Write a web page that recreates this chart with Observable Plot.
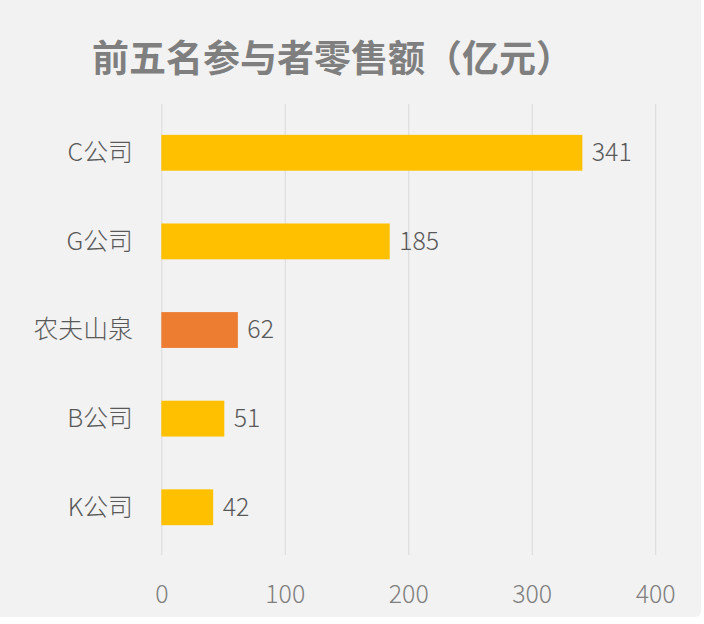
<!DOCTYPE html>
<html>
<head>
<meta charset="utf-8">
<script src="https://cdn.jsdelivr.net/npm/d3@7"></script>
<script src="https://cdn.jsdelivr.net/npm/@observablehq/plot@0.6"></script>
<style>
  html, body { margin: 0; padding: 0; background: #ffffff; }
  #card { position: relative; width: 701px; height: 617px; background: #f2f2f2; border-radius: 0 0 6px 0; overflow: hidden; }
  #title { position: absolute; left: 92px; top: 31px; font-family: "Noto Sans CJK SC", sans-serif; font-weight: bold; font-size: 37px; line-height: 50px; color: #7f7f7f; white-space: nowrap; }
  #chart { position: absolute; left: 0; top: 100px; }
</style>
</head>
<body>
<div id="card">
  <div id="title">前五名参与者零售额（亿元）</div>
  <div id="chart"></div>
</div>
<script>
const companies = ["C公司", "G公司", "农夫山泉", "B公司", "K公司"];
const values = [341, 185, 62, 51, 42];
const highlight = "农夫山泉";
const xTicks = [0, 100, 200, 300, 400];

const data = companies.map((name, i) => ({name, value: values[i]}));

const chart = Plot.plot({
  width: 704,
  height: 524,
  marginTop: 4,
  marginBottom: 67,
  marginLeft: 162,
  marginRight: 46,
  style: {background: "transparent", fontFamily: '"Noto Sans CJK SC", sans-serif', fontSize: "25px", fontWeight: 300},
  x: {domain: [0, 400], label: null},
  y: {domain: companies, paddingInner: 0.6, paddingOuter: 0.3167, label: null},
  marks: [
    Plot.gridX(xTicks, {stroke: "#d9d9d9", strokeOpacity: 1, strokeWidth: 1}),
    Plot.barX(data, {x: "value", y: "name", fill: d => d.name === highlight ? "#ED7D31" : "#FFC000"}),
    Plot.text(data, {x: "value", y: "name", text: d => String(d.value), dx: 9, textAnchor: "start", fill: "#595959", fontSize: 25}),
    Plot.axisX(xTicks, {tickSize: 0, tickPadding: 30, fontSize: 25, fill: "#7f7f7f", label: null}),
    Plot.axisY({tickSize: 0, tickPadding: 29, fontSize: 25, fill: "#595959", label: null})
  ]
});
document.getElementById("chart").appendChild(chart);
</script>
</body>
</html>
